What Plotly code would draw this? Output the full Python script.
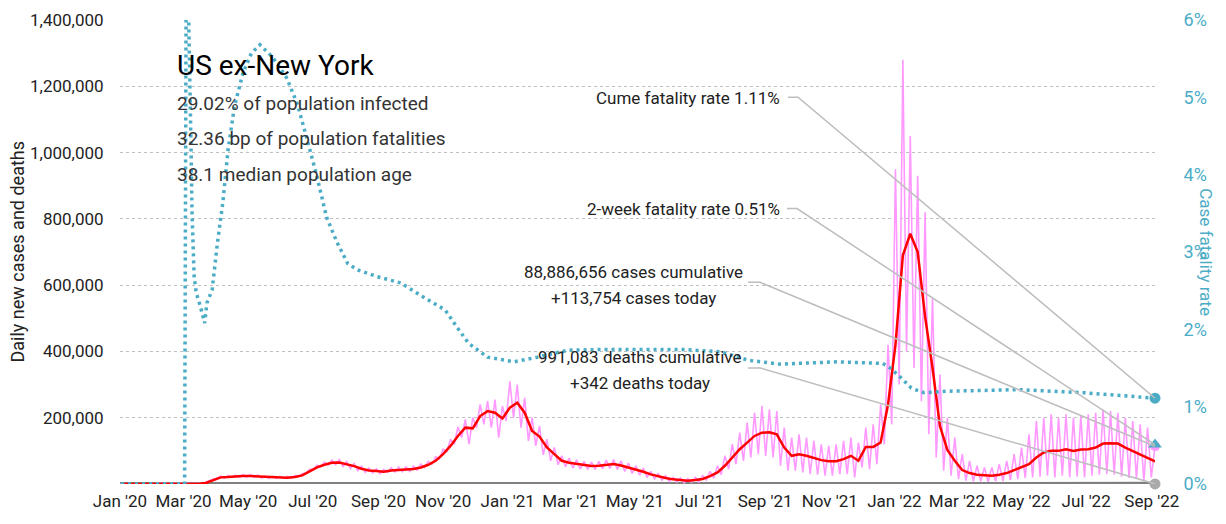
import pandas as pd
import plotly.graph_objects as go

FONT = "Roboto, 'Liberation Sans Narrow', sans-serif"
TEAL = "#4bacc6"
PINK = "#ff99ff"
GRID = "#c0c0c0"
LEADER = "#bdbdbd"

# weekly sample dates, last one is the latest report
week_dates = pd.date_range(end="2022-09-04", periods=140, freq="7D")

# 7-day average new cases (thousands)
cases_avg_k = [
    0, 0, 0, 0, 0, 0, 0, 0, 0, 0,
    0, 3, 12, 20, 21, 23, 24, 24, 23, 20,
    19, 19, 19, 21, 26, 38, 50, 58, 64, 65,
    60, 54, 46, 41, 39, 37, 41, 43, 44, 45,
    50, 58, 70, 90, 115, 145, 170, 168, 205, 220,
    215, 198, 230, 245, 215, 160, 143, 110, 90, 70,
    64, 60, 56, 54, 55, 58, 60, 56, 50, 43,
    37, 29, 23, 18, 14, 12, 10, 12, 15, 24,
    35, 55, 80, 105, 125, 145, 155, 156, 150, 110,
    85, 90, 85, 78, 72, 69, 69, 75, 85, 70,
    112, 112, 125, 240, 420, 690, 755, 700, 505, 350,
    175, 103, 70, 42, 33, 28, 26, 25, 28, 33,
    42, 50, 60, 80, 95, 100, 100, 105, 100, 104,
    105, 110, 122, 123, 122, 110, 100, 90, 78, 68,
]

# raw daily new cases (thousands): weekly reporting peak and mid-week trough
cases_hi_k = [
    0, 0, 0, 0, 0, 0, 0, 0, 0, 0,
    0, 5, 15, 24, 26, 27, 28, 28, 27, 24,
    23, 23, 23, 25, 31, 44, 57, 66, 72, 74,
    68, 62, 54, 48, 46, 44, 49, 51, 52, 54,
    60, 68, 82, 105, 135, 172, 195, 200, 240, 250,
    255, 235, 310, 300, 260, 200, 175, 135, 110, 85,
    78, 73, 68, 66, 68, 72, 74, 70, 63, 55,
    48, 38, 31, 25, 20, 18, 16, 20, 25, 38,
    55, 85, 120, 155, 185, 215, 235, 225, 220, 170,
    140, 150, 140, 130, 120, 115, 120, 130, 140, 125,
    170, 180, 240, 420, 950, 1280, 1050, 930, 820, 560,
    330, 200, 140, 90, 70, 55, 50, 50, 60, 70,
    90, 110, 150, 190, 200, 210, 200, 210, 200, 205,
    210, 215, 225, 220, 215, 200, 190, 180, 170, 114,
]
cases_lo_k = [
    0, 0, 0, 0, 0, 0, 0, 0, 0, 0,
    0, 2, 10, 17, 18, 20, 21, 21, 20, 18,
    17, 17, 17, 18, 22, 33, 44, 52, 57, 58,
    53, 47, 40, 35, 33, 31, 35, 36, 37, 38,
    42, 49, 60, 76, 98, 120, 140, 120, 170, 180,
    170, 140, 190, 200, 170, 130, 115, 88, 70, 58,
    52, 48, 45, 44, 44, 46, 47, 44, 38, 32,
    27, 20, 15, 11, 8, 6, 4, 5, 6, 12,
    18, 28, 45, 60, 70, 80, 90, 85, 80, 55,
    40, 40, 35, 30, 28, 25, 25, 30, 30, 20,
    50, 45, 60, 120, 180, 300, 400, 350, 250, 150,
    80, 40, 25, 15, 10, 8, 8, 7, 8, 9,
    12, 15, 18, 20, 22, 25, 20, 25, 20, 22,
    20, 25, 28, 30, 28, 22, 18, 15, 10, 20,
]

# daily deaths, monthly level
death_months = pd.date_range("2020-01-01", periods=33, freq="MS")
deaths_avg = [
    0, 0, 100, 1300, 1100, 600, 800, 1000, 750, 750, 1300, 2400,
    3000, 2200, 1100, 700, 550, 300, 250, 850, 1800, 1400, 1000, 1200,
    2200, 2200, 1000, 450, 300, 300, 400, 450, 400,
]

# cumulative case fatality rate (%)
cfr_dates = [
    "2020-01-02", "2020-03-02", "2020-03-04", "2020-03-05", "2020-03-06",
    "2020-03-08", "2020-03-09", "2020-03-11", "2020-03-13", "2020-03-17",
    "2020-03-21", "2020-03-23", "2020-03-28", "2020-04-02", "2020-04-07",
    "2020-04-12", "2020-04-18", "2020-04-26", "2020-05-04", "2020-05-12",
    "2020-05-24", "2020-06-06", "2020-06-16", "2020-06-25", "2020-07-05",
    "2020-07-14", "2020-07-24", "2020-08-03", "2020-08-12", "2020-08-31",
    "2020-09-22", "2020-10-13", "2020-11-03", "2020-11-14", "2020-11-25",
    "2020-12-13", "2021-01-07", "2021-01-29", "2021-02-27", "2021-04-04",
    "2021-06-15", "2021-07-21", "2021-08-16", "2021-09-15", "2021-10-03",
    "2021-11-08", "2021-12-21", "2021-12-28", "2022-01-06", "2022-01-17",
    "2022-01-29", "2022-02-20", "2022-04-28", "2022-06-29", "2022-09-04",
]
cfr_pct = [
    0, 0, 9.0, 7.0, 5.9,
    4.4, 3.5, 2.68, 2.47, 2.29,
    2.08, 2.34, 2.51, 3.12, 3.63,
    4.32, 4.88, 5.31, 5.57, 5.68,
    5.52, 5.26, 4.93, 4.49, 3.97,
    3.45, 3.12, 2.85, 2.77, 2.68,
    2.6, 2.42, 2.25, 2.03, 1.82,
    1.64, 1.58, 1.64, 1.73, 1.74,
    1.74, 1.71, 1.6, 1.55, 1.56,
    1.58, 1.56, 1.5, 1.39, 1.24,
    1.18, 1.2, 1.22, 1.18, 1.11,
]

region = "US ex-New York"
pct_infected = 29.02
bp_fatalities = 32.36
median_age = 38.1
cases_cum = 88886656
cases_today = 113754
deaths_cum = 991083
deaths_today = 342
cume_rate = 1.11
two_week_rate = 0.51

last_day = week_dates[-1]

raw_dates, raw_vals = [], []
for d, lo, hi in zip(week_dates, cases_lo_k, cases_hi_k):
    raw_dates += [d - pd.Timedelta(hours=84), d]
    raw_vals += [lo * 1000, hi * 1000]

fig = go.Figure()

fig.add_trace(go.Scatter(x=death_months, y=deaths_avg, mode="lines",
                         line=dict(color="#808080", width=4), hoverinfo="skip"))
fig.add_trace(go.Scatter(x=raw_dates, y=raw_vals, mode="lines",
                         line=dict(color=PINK, width=1.6), hoverinfo="skip"))
fig.add_trace(go.Scatter(x=week_dates, y=[v * 1000 for v in cases_avg_k], mode="lines",
                         line=dict(color="red", width=2.5), hoverinfo="skip"))
fig.add_trace(go.Scatter(x=cfr_dates, y=cfr_pct, mode="lines", yaxis="y2",
                         line=dict(color=TEAL, width=3.5, dash="3px,4px"),
                         hoverinfo="skip"))

# end-of-series markers
fig.add_trace(go.Scatter(x=[last_day], y=[deaths_today], mode="markers", cliponaxis=False,
                         marker=dict(color="#aaaaaa", size=11), hoverinfo="skip"))
fig.add_trace(go.Scatter(x=[last_day], y=[cases_today], mode="markers", cliponaxis=False,
                         marker=dict(color=PINK, size=10), hoverinfo="skip"))
fig.add_trace(go.Scatter(x=[last_day], y=[two_week_rate], mode="markers", yaxis="y2",
                         cliponaxis=False,
                         marker=dict(color=TEAL, size=12, symbol="triangle-up"),
                         hoverinfo="skip"))
fig.add_trace(go.Scatter(x=[last_day], y=[cume_rate], mode="markers", yaxis="y2",
                         cliponaxis=False, marker=dict(color=TEAL, size=11),
                         hoverinfo="skip"))

# leader lines: pixel offsets from each end marker back to its label
leaders = [
    ("y2", cume_rate, "M-367,301 L-357,301 L0,0"),
    ("y2", two_week_rate, "M-368,236 L-358,236 L0,0"),
    ("y", cases_today, "M-407,164 L-395,164 L0,0"),
    ("y", deaths_today, "M-407,116 L-395,116 L0,0"),
]
for yref, yv, path in leaders:
    fig.add_shape(type="path", xref="x", yref=yref, xsizemode="pixel", ysizemode="pixel",
                  xanchor=last_day, yanchor=yv, path=path,
                  line=dict(color=LEADER, width=1.5))


def label(text, x, y, anchor, size=17, color="#222222", angle=0):
    return dict(text=text, x=x, y=y, xref="paper", yref="paper", xanchor=anchor,
                yanchor="middle", showarrow=False, textangle=angle,
                font=dict(size=size, color=color))


ann = [label(region, 0.0531, 0.903, "left", 28, "black")]
subs = [f"{pct_infected:.2f}% of population infected",
        f"{bp_fatalities:.2f} bp of population fatalities",
        f"{median_age} median population age"]
for s, yy in zip(subs, [0.819, 0.744, 0.668]):
    ann.append(label(s, 0.0531, yy, "left", 19, "#333333"))
ann.append(label(f"Cume fatality rate {cume_rate:.2f}%", 0.6396, 0.832, "right"))
ann.append(label(f"2-week fatality rate {two_week_rate:.2f}%", 0.6396, 0.5927, "right"))
ann.append(label(f"{cases_cum:,} cases cumulative", 0.4966, 0.4569, "center"))
ann.append(label(f"+{cases_today:,} cases today", 0.4966, 0.4009, "center"))
ann.append(label(f"{deaths_cum:,} deaths cumulative", 0.5024, 0.2737, "center"))
ann.append(label(f"+{deaths_today:,} deaths today", 0.5024, 0.2177, "center"))
ann.append(label("Daily new cases and deaths", -0.1, 0.5, "center", 18, "#222222", -90))
ann.append(label("Case fatality rate", 1.049, 0.5, "center", 17, TEAL, 90))

# page body adds an 8px offset, so the figure is 16px smaller than the window
fig.update_layout(
    width=1210, height=508,
    margin=dict(l=112, r=63, t=12, b=32),
    plot_bgcolor="white", paper_bgcolor="white",
    showlegend=False,
    font=dict(family=FONT, size=17, color="#222222"),
    annotations=ann,
    xaxis=dict(type="date", range=["2020-01-01", "2022-09-04"], tick0="2020-01-01",
               dtick="M2", tickformat="%b '%y", tickangle=0, automargin=False,
               showgrid=False, zeroline=False, showline=False, ticks="outside",
               ticklen=2, tickcolor="rgba(0,0,0,0)"),
    yaxis=dict(range=[0, 1400000], tickvals=[200000 * i for i in range(1, 8)],
               tickformat=",", automargin=False, showgrid=True, gridcolor=GRID,
               griddash="dot", gridwidth=1, zeroline=False, showline=False,
               ticks="outside", ticklen=12, tickcolor="rgba(0,0,0,0)"),
    yaxis2=dict(range=[0, 6], tickvals=list(range(0, 7)),
                ticktext=[f"{v}%" for v in range(0, 7)], automargin=False,
                overlaying="y", side="right", showgrid=False, zeroline=False,
                tickfont=dict(color=TEAL, size=18), ticks="outside", ticklen=24,
                tickcolor="rgba(0,0,0,0)"),
)

fig.write_html("out.html")
